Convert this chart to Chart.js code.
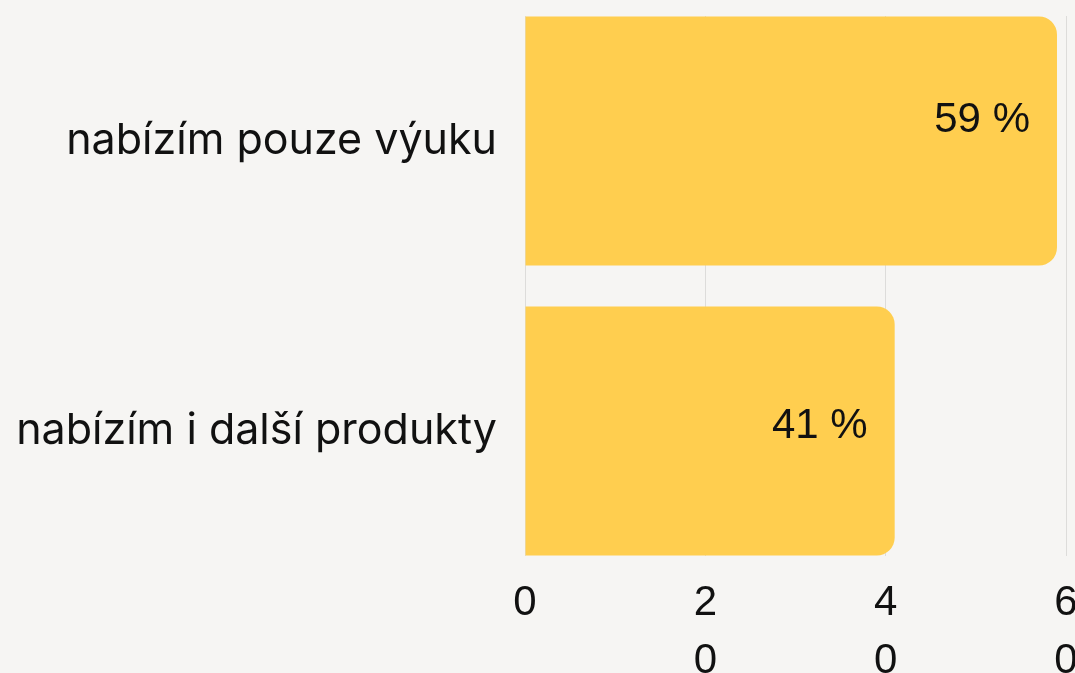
<!DOCTYPE html>
<html><head><meta charset="utf-8">
<script src="https://cdn.jsdelivr.net/npm/chart.js@4"></script>
<style>
html,body{margin:0;padding:0;background:#f6f5f3;overflow:hidden}
#wrap{position:relative;width:1075px;height:673px}
</style></head><body>
<div id="wrap"><canvas id="c"></canvas></div>
<script>
// ---- data ----
const categories = ['nabízím pouze výuku', 'nabízím i další produkty'];
const shares = [59, 41];
const xTicks = [0, 20, 40, 60];
const xMin = 0;
const xMax = 60;
const yMin = -0.431;
const yMax = 1.431;

// ---- style ----
const barColor = '#ffce4f';
const textColor = '#111111';
const labelDy = [-21, -5];

const valueLabelPlugin = {
  id: 'valueLabels',
  afterDatasetsDraw(chart) {
    const meta = chart.getDatasetMeta(0);
    const ctx = chart.ctx;
    ctx.save();
    ctx.font = '42px "Liberation Sans"';
    ctx.fillStyle = textColor;
    ctx.textAlign = 'right';
    ctx.textBaseline = 'middle';
    meta.data.forEach((bar, i) => {
      ctx.fillText(shares[i] + ' %', bar.x - 27, bar.y + labelDy[i]);
    });
    ctx.restore();
  }
};

new Chart(document.getElementById('c'), {
  type: 'bar',
  data: {
    datasets: [{
      data: categories.map((c, i) => ({ x: shares[i], y: i })),
      backgroundColor: barColor,
      borderRadius: 18,
      borderSkipped: 'start',
      categoryPercentage: 1,
      barPercentage: 0.859
    }]
  },
  options: {
    indexAxis: 'y',
    responsive: true,
    maintainAspectRatio: false,
    animation: false,
    layout: { padding: { top: 16, right: 9, left: 0, bottom: 0 } },
    plugins: { legend: { display: false }, tooltip: { enabled: false } },
    scales: {
      x: {
        type: 'linear', min: xMin, max: xMax,
        afterBuildTicks: s => { s.ticks = xTicks.map(v => ({ value: v })); },
        ticks: {
          callback: v => String(v).split(''),
          font: { family: 'Liberation Sans', size: 42, lineHeight: 1.38 },
          color: textColor, padding: 18, maxRotation: 0, autoSkip: false
        },
        grid: { color: 'rgba(0,0,0,0.1)', drawTicks: false },
        border: { display: false },
        afterFit: s => { s.height = 117; s.paddingLeft = 0; s.paddingRight = 0; }
      },
      y: {
        type: 'linear', reverse: true, min: yMin, max: yMax, offset: false, grace: 0,
        afterBuildTicks: s => { s.ticks = categories.map((c, i) => ({ value: i })); s.min = yMin; s.max = yMax; },
        ticks: {
          callback: v => categories[v],
          font: { family: 'Inter', size: 43 },
          color: textColor, padding: 28, autoSkip: false
        },
        grid: { display: false, drawTicks: false },
        border: { display: false },
        afterFit: s => { s.width = 525; s.paddingTop = 0; s.paddingBottom = 0; }
      }
    }
  },
  plugins: [valueLabelPlugin]
});
</script>
</body></html>
